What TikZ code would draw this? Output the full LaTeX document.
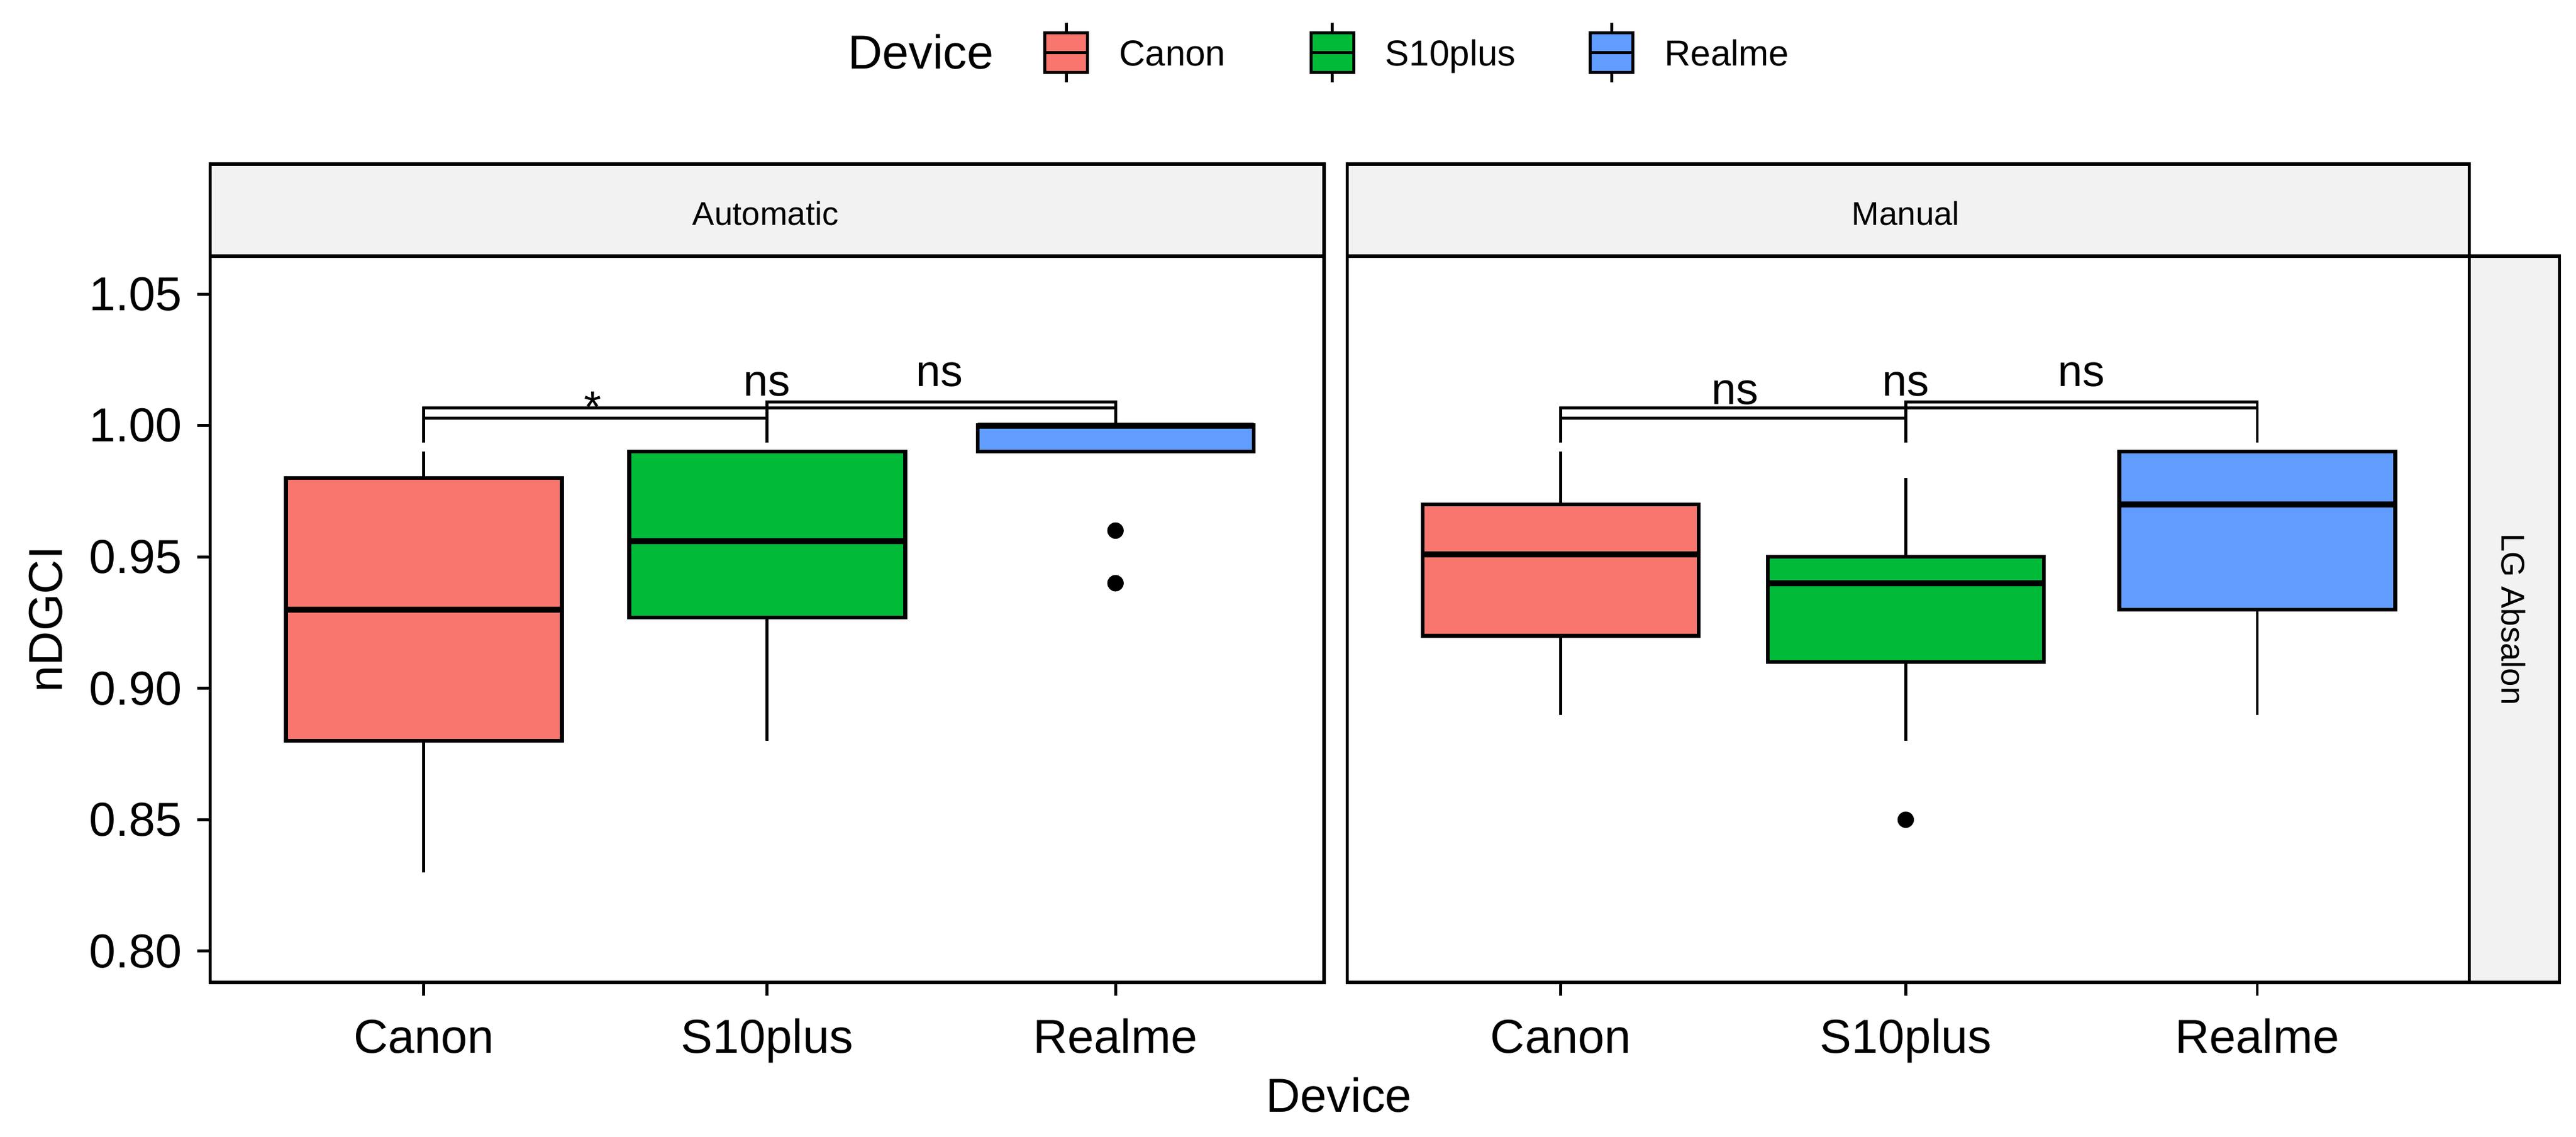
\documentclass[tikz,border=0pt]{standalone}
\usepackage{fontspec}
\setmainfont{Liberation Sans}
\definecolor{cR}{HTML}{F8766D}
\definecolor{cG}{HTML}{00BA38}
\definecolor{cB}{HTML}{619CFF}
\definecolor{strip}{HTML}{F2F2F2}
\begin{document}
\begin{tikzpicture}[x=1pt,y=-1pt,line width=1.8pt,
  tick/.style={font=\fontsize{29}{29}\selectfont},
  strp/.style={font=\fontsize{20}{20}\selectfont},
  sig/.style={font=\fontsize{27}{27}\selectfont},
  boxs/.style={draw=black,line width=2.3pt}]
\useasboundingbox (0,0) rectangle (1568,692);
\def\Y#1{579-(#1-0.80)*1600}
\newcommand\bx[7]{%
  \draw (#1,{\Y{#2}}) -- (#1,{\Y{#3}});
  \draw (#1,{\Y{#5}}) -- (#1,{\Y{#6}});
  \filldraw[boxs,fill=#7] (#1-84,{\Y{#3}}) rectangle (#1+84,{\Y{#5}});
  \draw[line width=3.6pt] (#1-84,{\Y{#4}}) -- (#1+84,{\Y{#4}});}
\newcommand\brk[3]{%
  \draw (#1,269.5) -- (#1,#3) -- (#2,#3) -- (#2,269.5);}
% panels
\draw[line width=2pt,fill=strip] (128,100) rectangle (806,156);
\node[strp] at (466,130) {Automatic};
\draw[line width=2pt,fill=strip] (820,100) rectangle (1503,156);
\node[strp] at (1160,130) {Manual};
\draw[line width=2pt,fill=strip] (1503,156) rectangle (1558,598);
\node[strp,rotate=-90] at (1530,377) {LG Absalon};
% left panel
\brk{258}{467}{254.6}
\brk{258}{679}{248.5}
\brk{467}{679}{244.7}
\bx{258}{0.83}{0.88}{0.93}{0.98}{0.99}{cR}
\bx{467}{0.88}{0.927}{0.956}{0.99}{0.99}{cG}
\bx{679}{0.99}{0.99}{1.00}{1.00}{1.00}{cB}
\fill (679,{\Y{0.96}}) circle (5);
\fill (679,{\Y{0.94}}) circle (5);
\node[sig] at (361,248) {*};
\node[sig] at (467,234) {ns};
\node[sig] at (572,228) {ns};
% right panel
\brk{950}{1160}{254.6}
\brk{950}{1374}{248.5}
\brk{1160}{1374}{244.7}
\bx{950}{0.89}{0.92}{0.951}{0.97}{0.99}{cR}
\bx{1160}{0.88}{0.91}{0.94}{0.95}{0.98}{cG}
\bx{1374}{0.89}{0.93}{0.97}{0.99}{0.99}{cB}
\fill (1160,{\Y{0.85}}) circle (5);
\node[sig] at (1056,239) {ns};
\node[sig] at (1160,234) {ns};
\node[sig] at (1267,228) {ns};
% frames
\draw[line width=2pt] (128,156) rectangle (806,598);
\draw[line width=2pt] (820,156) rectangle (1503,598);
% y axis
\foreach \v/\l in {0.80/0.80,0.85/0.85,0.90/0.90,0.95/0.95,1.00/1.00,1.05/1.05}{
  \draw (120,{\Y{\v}}) -- (128,{\Y{\v}});
  \node[tick,anchor=east] at (115,{\Y{\v}}) {\l};}
\node[tick,rotate=90] at (28,377) {nDGCI};
% x axis
\foreach \x/\l in {258/Canon,467/S10plus,679/Realme,950/Canon,1160/S10plus,1374/Realme}{
  \draw (\x,598) -- (\x,606);
  \node[tick,anchor=base] at (\x,641) {\l};}
\node[tick,anchor=base] at (815,677) {Device};
% legend
\node[tick,anchor=base west] at (512,42) {Device};
\foreach \x/\c/\l in {649/cR/Canon,811/cG/S10plus,981/cB/Realme}{
  \draw (\x,14) -- (\x,50);
  \filldraw[boxs,line width=1.8pt,fill=\c] (\x-13,20) rectangle (\x+13,44);
  \draw (\x-13,32) -- (\x+13,32);
  \node[font=\fontsize{22}{22}\selectfont,anchor=base west] at (\x+28,40) {\l};}
\end{tikzpicture}
\end{document}
